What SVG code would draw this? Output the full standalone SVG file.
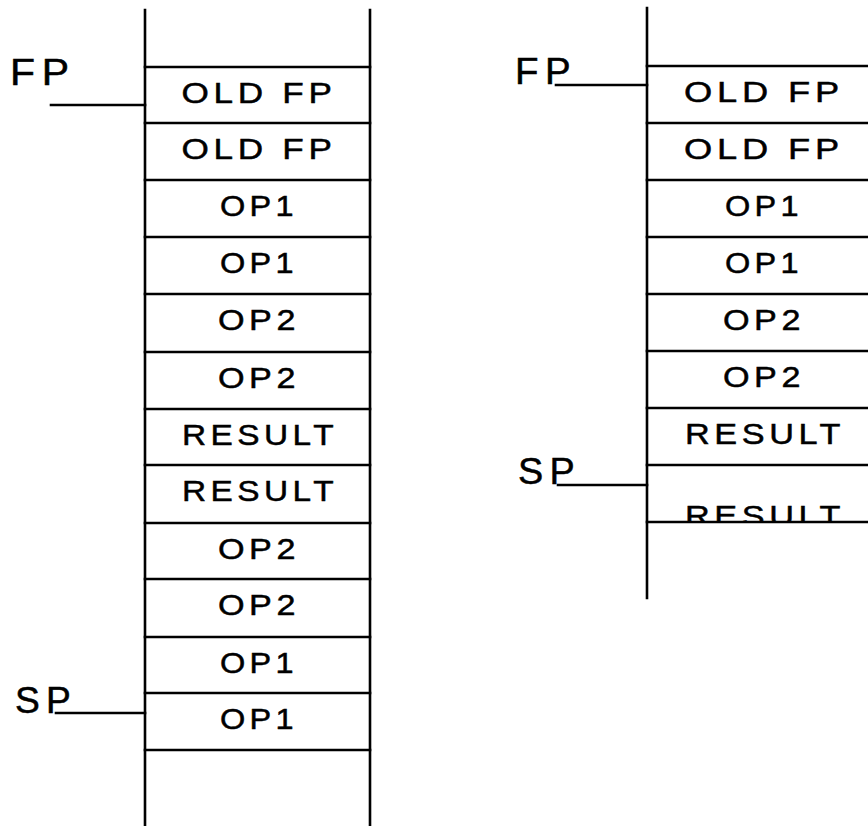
<svg xmlns="http://www.w3.org/2000/svg" width="868" height="826" viewBox="0 0 868 826">
<style>
  .ln { stroke:#000; stroke-width:2.6; fill:none; stroke-linecap:square; }
  .cell { font-family:"Liberation Sans","DejaVu Sans",sans-serif; font-size:30px; letter-spacing:4px; fill:#000; stroke:#000; stroke-width:0.5; text-anchor:middle; }
  .ptr { font-family:"Liberation Sans","DejaVu Sans",sans-serif; font-size:36px; letter-spacing:6px; fill:#000; stroke:#000; stroke-width:0.5; }
</style>
<defs>
  <clipPath id="clipR"><rect x="640" y="0" width="240" height="521"/></clipPath>
</defs>
<g id="left-stack">
  <path class="ln" d="M145 10 V826 M370 10 V826"/>
  <path class="ln" d="M145 67 H370 M145 123 H370 M145 180 H370 M145 237 H370 M145 294 H370 M145 352 H370 M145 409 H370 M145 465 H370 M145 523 H370 M145 579 H370 M145 637 H370 M145 693 H370 M145 750 H370"/>
  <text class="cell" x="259" y="103" textLength="155" lengthAdjust="spacingAndGlyphs">OLD FP</text>
  <text class="cell" x="259" y="159" textLength="155" lengthAdjust="spacingAndGlyphs">OLD FP</text>
  <text class="cell" x="259" y="216" textLength="78" lengthAdjust="spacingAndGlyphs">OP1</text>
  <text class="cell" x="259" y="273" textLength="78" lengthAdjust="spacingAndGlyphs">OP1</text>
  <text class="cell" x="259" y="330" textLength="82" lengthAdjust="spacingAndGlyphs">OP2</text>
  <text class="cell" x="259" y="388" textLength="82" lengthAdjust="spacingAndGlyphs">OP2</text>
  <text class="cell" x="260" y="445" textLength="156" lengthAdjust="spacingAndGlyphs">RESULT</text>
  <text class="cell" x="260" y="501" textLength="156" lengthAdjust="spacingAndGlyphs">RESULT</text>
  <text class="cell" x="259" y="559" textLength="82" lengthAdjust="spacingAndGlyphs">OP2</text>
  <text class="cell" x="259" y="615" textLength="82" lengthAdjust="spacingAndGlyphs">OP2</text>
  <text class="cell" x="259" y="673" textLength="78" lengthAdjust="spacingAndGlyphs">OP1</text>
  <text class="cell" x="259" y="729" textLength="78" lengthAdjust="spacingAndGlyphs">OP1</text>
</g>
<g id="left-fp">
  <text class="ptr" x="10" y="85" textLength="66" lengthAdjust="spacingAndGlyphs">FP</text>
  <path class="ln" d="M51 105 H145"/>
</g>
<g id="left-sp">
  <text class="ptr" x="15" y="713" textLength="62" lengthAdjust="spacingAndGlyphs">SP</text>
  <path class="ln" d="M56 713 H145"/>
</g>
<g id="right-stack">
  <path class="ln" d="M647 8 V598"/>
  <path class="ln" d="M647 66 H868 M647 123 H868 M647 180 H868 M647 237 H868 M647 294 H868 M647 351 H868 M647 408 H868 M647 465 H868 M647 522 H868"/>
  <text class="cell" x="764" y="102" textLength="160" lengthAdjust="spacingAndGlyphs">OLD FP</text>
  <text class="cell" x="764" y="159" textLength="160" lengthAdjust="spacingAndGlyphs">OLD FP</text>
  <text class="cell" x="764" y="216" textLength="78" lengthAdjust="spacingAndGlyphs">OP1</text>
  <text class="cell" x="764" y="273" textLength="78" lengthAdjust="spacingAndGlyphs">OP1</text>
  <text class="cell" x="764" y="330" textLength="82" lengthAdjust="spacingAndGlyphs">OP2</text>
  <text class="cell" x="764" y="387" textLength="82" lengthAdjust="spacingAndGlyphs">OP2</text>
  <text class="cell" x="765" y="444" textLength="160" lengthAdjust="spacingAndGlyphs">RESULT</text>
  <text class="cell" x="765" y="526" textLength="160" lengthAdjust="spacingAndGlyphs" clip-path="url(#clipR)">RESULT</text>
</g>
<g id="right-fp">
  <text class="ptr" x="515" y="84" textLength="62" lengthAdjust="spacingAndGlyphs">FP</text>
  <path class="ln" d="M556 85 H647"/>
</g>
<g id="right-sp">
  <text class="ptr" x="518" y="484" textLength="63" lengthAdjust="spacingAndGlyphs">SP</text>
  <path class="ln" d="M558 485 H647"/>
</g>
</svg>
